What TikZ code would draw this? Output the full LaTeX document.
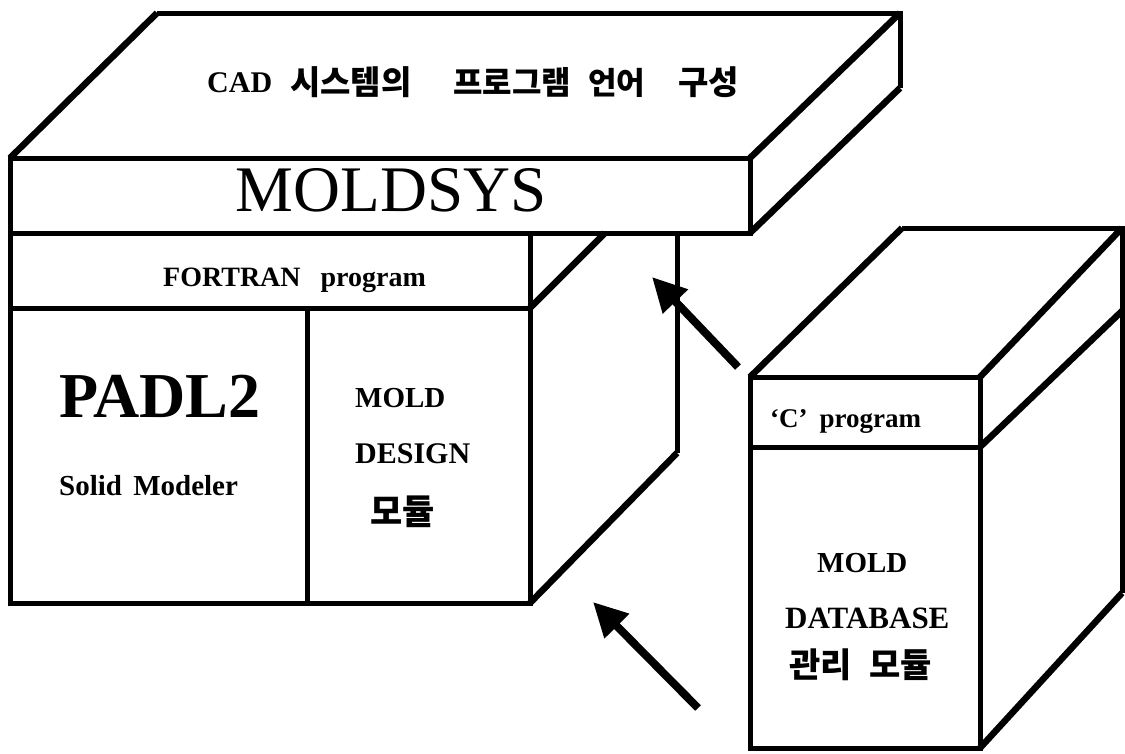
\documentclass[tikz,border=0pt]{standalone}
\usepackage{fontspec}
\setmainfont{Liberation Serif}
\newfontfamily\kr{Noto Sans CJK KR}
\usetikzlibrary{arrows.meta}
\newcommand\fsz[1]{\fontsize{#1}{#1}\selectfont}
\begin{document}
\begin{tikzpicture}[x=1pt,y=-1pt,line join=miter,
  edge/.style={line width=5pt},
  diag/.style={line width=6.5pt},
  lbl/.style={inner sep=0pt,anchor=base west},
  krl/.style={inner sep=0pt,anchor=base west},
  bigarrow/.style={line width=8pt,-{Triangle[length=34pt,width=33pt]}}]
\useasboundingbox (0,0) rectangle (1125,753);
% ---- top slab ----
\draw[diag] (10,158) -- (157,13);
\draw[edge] (157,13) -- (900,13) -- (900,88);
\draw[diag] (900,88) -- (750,233);
\draw[diag] (900,13) -- (750,158);
\draw[edge] (10,158) rectangle (750,233);
% ---- lower box ----
\draw[edge] (10,233) -- (10,603) -- (530,603) -- (530,233);
\draw[edge] (10,308) -- (530,308);
\draw[diag] (530,308) -- (605,233);
\draw[edge] (307,308) -- (307,603);
\draw[edge] (677,233) -- (677,453);
\draw[diag] (677,453) -- (530,603);
% ---- C box ----
\draw[edge] (750,377) rectangle (980,748);
\draw[edge] (750,447) -- (980,447);
\draw[diag] (980,447) -- (1122,311);
\draw[diag] (750,377) -- (902,228);
\draw[edge] (902,228) -- (1122,228) -- (1122,593);
\draw[diag] (1122,593) -- (980,748);
\draw[diag] (980,377) -- (1122,228);
% ---- texts ----
\node[lbl,font=\bfseries\fsz{30pt}] (cad) at (207,92) {CAD};
\node[krl,font=\kr\bfseries\fsz{33pt}] (k1) at (290,94) {시스템의};
\node[krl,font=\kr\bfseries\fsz{32pt}] (k2) at (453,94) {프로그램};
\node[krl,font=\kr\bfseries\fsz{31pt}] (k3) at (588,94) {언어};
\node[krl,font=\kr\bfseries\fsz{33pt}] (k4) at (678,94) {구성};
\node[inner sep=0pt,anchor=base,font=\fsz{65pt}] (moldsys) at (391,211) {MOLDSYS};
\node[lbl,font=\bfseries\fsz{28pt}] (fortran) at (163,286) {FORTRAN\hspace{20pt}program};
\node[lbl,font=\bfseries\fsz{64pt}] (padl) at (59,417) {PADL2};
\node[lbl,font=\bfseries\fsz{29pt}] (solid) at (59,495) {Solid\hspace{4pt} Modeler};
\node[lbl,font=\bfseries\fsz{29pt}] (mold1) at (355,407) {MOLD};
\node[lbl,font=\bfseries\fsz{30pt}] (design) at (355,463) {DESIGN};
\node[krl,font=\kr\bfseries\fsz{35pt}] (modul1) at (370,524) {모듈};
\node[lbl,font=\bfseries\fsz{27pt}] (cprog) at (770,427) {`C'\hspace{12pt}program};
\node[lbl,font=\bfseries\fsz{29pt}] (mold2) at (817,572) {MOLD};
\node[lbl,font=\bfseries\fsz{31pt}] (database) at (785,628) {DATABASE};
\node[krl,font=\kr\bfseries\fsz{34pt}] (gwanri) at (789,677) {관리};
\node[krl,font=\kr\bfseries\fsz{34pt}] (modul2) at (869,677) {모듈};
% ---- arrows ----
\coordinate (a1s) at (738,367);
\coordinate (a1e) at (652,277);
\coordinate (a2s) at (698,708);
\coordinate (a2e) at (593,602);
\draw[bigarrow] (a1s) -- (a1e);
\draw[bigarrow] (a2s) -- (a2e);
\end{tikzpicture}
\end{document}
